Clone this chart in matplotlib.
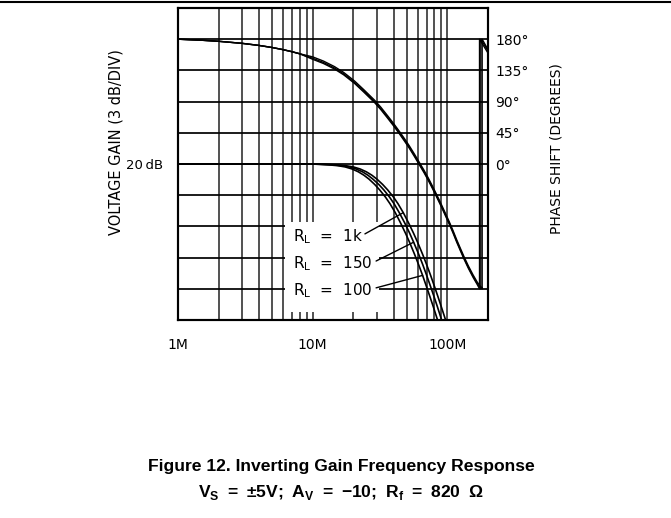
import numpy as np
import matplotlib
matplotlib.use("Agg")
import matplotlib.pyplot as plt
from matplotlib.patches import Rectangle
from matplotlib.lines import Line2D

plt.rcParams['font.family'] = ['DejaVu Sans']
plt.rcParams['mathtext.fontset'] = 'custom'
plt.rcParams['mathtext.rm'] = 'DejaVu Sans'
plt.rcParams['mathtext.bf'] = 'Liberation Sans:bold'

# ---------------- data (frequency in MHz) ----------------
x_ticks = [1, 10, 100]
x_tick_labels = ["1M", "10M", "100M"]
phase_ticks = [0, 45, 90, 135, 180]
phase_tick_labels = ["0°", "45°", "90°", "135°", "180°"]

gain_1k_f = [1, 5, 10, 12.5, 15, 17.5, 20, 22.5, 25, 27.5, 30, 33, 36, 39.8, 43, 47, 51.4,
             56, 60, 65.3, 70, 75, 80.1, 85, 90, 96.7, 104]
gain_1k_db = [20, 20, 20, 19.97, 19.92, 19.84, 19.72, 19.52, 19.25, 18.92, 18.54, 18.04, 17.51,
              16.81, 16.17, 15.32, 14.35, 13.35, 12.48, 11.34, 10.34, 9.29, 8.23, 7.25, 6.28, 5.03, 3.73]

gain_150_f = [1, 5, 10, 11.7, 14.0, 16.4, 18.7, 21.0, 23.4, 25.7, 28.0, 30.9, 33.7, 37.2, 40.2,
              43.9, 48.1, 52.4, 56.1, 61.1, 65.5, 70.1, 74.9, 79.5, 84.2, 90.4, 97.2]
gain_150_db = [20, 20, 20, 19.97, 19.92, 19.84, 19.72, 19.52, 19.25, 18.92, 18.54, 18.04, 17.51,
               16.81, 16.17, 15.32, 14.35, 13.35, 12.48, 11.34, 10.34, 9.29, 8.23, 7.25, 6.28, 5.03, 3.73]

gain_100_f = [1, 5, 10, 10.9, 13.1, 15.3, 17.4, 19.6, 21.8, 24.0, 26.2, 28.8, 31.4, 34.7, 37.5,
              41.0, 44.8, 48.8, 52.3, 56.9, 61.0, 65.4, 69.8, 74.1, 78.5, 84.3, 90.7]
gain_100_db = [20, 20, 20, 19.97, 19.92, 19.84, 19.72, 19.52, 19.25, 18.92, 18.54, 18.04, 17.51,
               16.81, 16.17, 15.32, 14.35, 13.35, 12.48, 11.34, 10.34, 9.29, 8.23, 7.25, 6.28, 5.03, 3.73]

phase_1k_f = [1, 1.5, 2, 3, 4, 5, 6, 7, 8, 10, 12, 14.5, 17, 20.5, 24, 28.8, 32, 36, 40, 44, 48,
              52, 57, 62, 67, 72, 77, 82.6, 88, 95, 103, 110, 117, 125, 133, 143, 155, 166, 177,
              181, 181.01, 200]
phase_1k_deg = [180, 178.5, 177, 174, 171, 168, 165, 162, 159, 154.5, 148.5, 140.5, 132, 119.5,
                107, 92, 82, 69.5, 58, 47, 36.5, 26.5, 14, 2, -9, -20, -31, -43, -54, -68, -83,
                -96, -109, -122, -134, -147, -160, -170, -177.5, -180, 180, 165]

phase_150_f = [1, 1.5, 2, 3, 4, 5, 6, 7, 8, 10, 12, 14.5, 17, 20.5, 24, 28.8, 32, 36, 40, 44, 48,
               52, 57, 62, 67, 72, 77, 82.6, 88, 95, 103, 110, 117, 125, 133, 143, 155, 166, 177,
               177.01, 200]
phase_150_deg = [180, 178.5, 177, 174, 171, 168, 165, 162, 159, 152.5, 146.5, 138.5, 130, 117.5,
                 105, 90, 80, 67.5, 56, 45, 34.5, 24.5, 12, 0, -11, -22, -33, -45, -56, -70, -85,
                 -98, -111, -124, -136, -149, -162, -172, -180, 180, 163]

phase_100_f = [1, 1.5, 2, 3, 4, 5, 6, 7, 8, 10, 12, 14.5, 17, 20.5, 24, 28.8, 32, 36, 40, 44, 48,
               52, 57, 62, 67, 72, 77, 82.6, 88, 95, 103, 110, 117, 125, 133, 143, 155, 166, 173,
               173.01, 200]
phase_100_deg = [180, 178.5, 177, 174, 171, 168, 165, 162, 159, 151, 145, 137, 128.5, 116, 103.5,
                 88.5, 78.5, 66, 54.5, 43.5, 33, 23, 10.5, -1.5, -12.5, -23.5, -34.5, -46.5,
                 -57.5, -71.5, -86.5, -99.5, -112.5, -125.5, -137.5, -150.5, -163.5, -173.5,
                 -180, 180, 160]

rl_labels = ["1k", "150", "100"]

# ---------------- figure ----------------
W, H = 671, 518
fig = plt.figure(figsize=(W / 100, H / 100), dpi=100)
L, R, T, B = 178, 488, 8, 320
ax = fig.add_axes([L / W, 1 - B / H, (R - L) / W, (B - T) / H])

ax.set_xscale('log')
ax.set_xlim(1, 200)
ax.set_ylim(5, 35)

ax.set_xticks(x_ticks)
ax.set_xticklabels(x_tick_labels)
minor = [m * d for d in (1, 10) for m in range(2, 10)]
ax.set_xticks(minor, minor=True)
ax.set_xticklabels([], minor=True)
gticks = np.arange(8, 33, 3)
ax.set_yticks(gticks)
ax.set_yticklabels(["20\u2009dB" if v == 20 else "" for v in gticks])
ax.tick_params(axis='both', which='both', length=0)
ax.tick_params(axis='x', pad=13, labelsize=10)
ax.tick_params(axis='y', pad=11, labelsize=9.5)

ax.set_axisbelow(True)
ax.grid(True, axis='x', which='both', color='#4a4a4a', lw=1.35)
ax.grid(True, axis='y', which='major', color='black', lw=1.25)
for s in ax.spines.values():
    s.set_linewidth(1.5)

# white label box hiding the grid
ax.add_patch(Rectangle((0.345, 0.026), 0.303, 0.288, transform=ax.transAxes,
                       fc='white', ec='none', zorder=1))

for f, g in [(gain_1k_f, gain_1k_db), (gain_150_f, gain_150_db), (gain_100_f, gain_100_db)]:
    ax.plot(f, g, color='black', lw=1.2, zorder=2)

# R_L labels and leaders
label_y = [0.2532, 0.1667, 0.0801]
leader_start = [(0.603, 0.276), (0.639, 0.189), (0.639, 0.103)]
targets = [(gain_1k_f[15], gain_1k_db[15]), (gain_150_f[18], gain_150_db[18]),
           (gain_100_f[21], gain_100_db[21])]
for lab, y, st, tg in zip(rl_labels, label_y, leader_start, targets):
    ax.text(0.370, y, r"R$_\mathrm{L}$  =  " + lab, transform=ax.transAxes,
            ha='left', va='baseline', fontsize=11, zorder=3)
    ax.annotate('', xy=tg, xycoords='data', xytext=st, textcoords='axes fraction',
                arrowprops=dict(arrowstyle='-', lw=1.0, color='black',
                                shrinkA=0, shrinkB=0), zorder=3)

# phase axis
ax2 = ax.twinx()
ax2.set_ylim(-225, 225)
ax2.set_yticks(phase_ticks)
ax2.set_yticklabels(phase_tick_labels)
ax2.tick_params(axis='y', length=0, pad=5, labelsize=10)
for s in ax2.spines.values():
    s.set_linewidth(1.5)
for f, p in [(phase_1k_f, phase_1k_deg), (phase_150_f, phase_150_deg), (phase_100_f, phase_100_deg)]:
    ax2.plot(f, p, color='black', lw=1.0)

# axis titles
fig.text(116 / W, 1 - 142 / H, "VOLTAGE GAIN (3 dB/DIV)", rotation=90,
         ha='center', va='center', fontsize=10.5)
fig.text(557 / W, 1 - 149 / H, "PHASE SHIFT (DEGREES)", rotation=90,
         ha='center', va='center', fontsize=10)

# page rule at top
fig.add_artist(Line2D([0, 1], [1 - 2 / H, 1 - 2 / H], transform=fig.transFigure,
                      color='black', lw=1.5))

# caption
fig.text(341 / W, 1 - 466 / H, "Figure 12. Inverting Gain Frequency Response",
         ha='center', va='center', fontsize=12.6, fontweight='bold',
         family='Liberation Sans')
sp = "\u2002"
fig.text(341 / W, 1 - 492 / H,
         r"$\mathbf{V}_\mathbf{S}$" + sp + "=" + sp + "±5V;" + sp +
         r"$\mathbf{A}_\mathbf{V}$" + sp + "=" + sp + "−10;" + sp +
         r"$\mathbf{R}_\mathbf{f}$" + sp + "=" + sp + "820" + sp + "Ω",
         ha='center', va='center', fontsize=12.6, fontweight='bold',
         family='Liberation Sans')

fig.savefig("out.png", dpi=100)
